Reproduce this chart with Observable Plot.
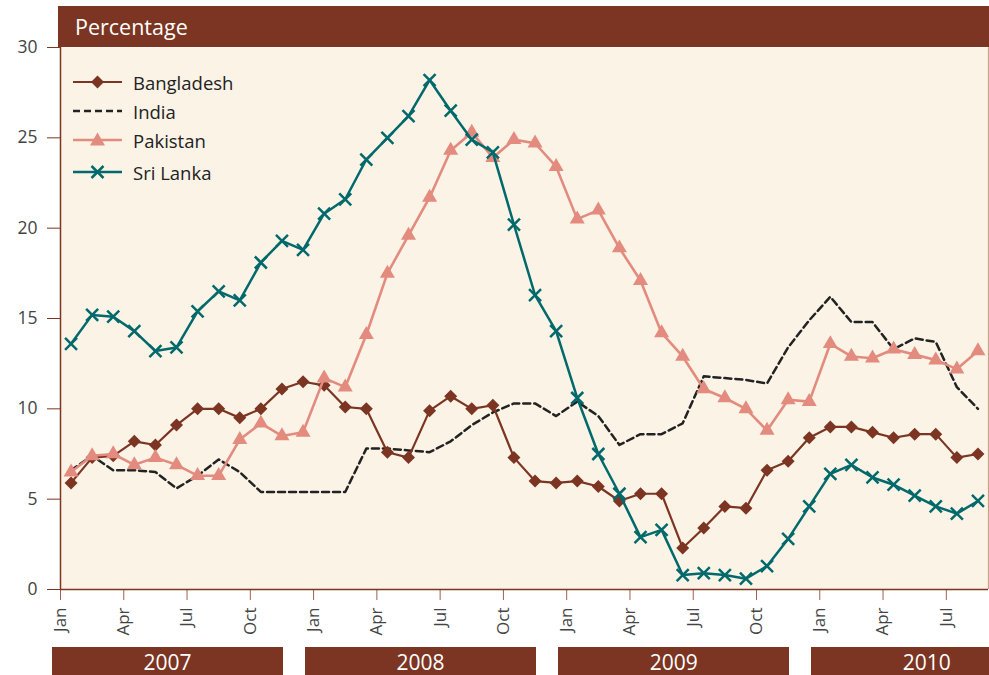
<!DOCTYPE html>
<html><head><meta charset="utf-8">
<script src="https://cdn.jsdelivr.net/npm/d3@7"></script>
<script src="https://cdn.jsdelivr.net/npm/@observablehq/plot@0.6"></script>
<style>
body{margin:0;background:#fff;font-family:"Open Sans",sans-serif;}
#wrap{position:relative;width:989px;height:675px;overflow:hidden;}
#chart{position:absolute;left:0;top:0;}
#header{position:absolute;left:58px;top:6px;width:931px;height:41px;background:#7B3522;color:#fff;font-size:21.5px;line-height:41px;padding-left:17px;box-sizing:border-box;}
.yearbar{position:absolute;top:647px;height:32px;background:#7B3522;color:#fff;font-size:21px;line-height:30px;text-align:center;}
.leg{position:absolute;left:72px;height:24px;display:flex;align-items:center;font-size:18.5px;color:#222;}
.leg svg{margin-right:9px;}
</style></head><body><div id="wrap"><div id="chart"></div></div>
<script>
const monthNames = ["Jan","Feb","Mar","Apr","May","Jun","Jul","Aug","Sep","Oct","Nov","Dec"];
const years = ["2007","2008","2009","2010"];
const countries = ["Bangladesh","India","Pakistan","Sri Lanka"];
const bangladesh = [5.9,7.3,7.4,8.2,8.0,9.1,10.0,10.0,9.5,10.0,11.1,11.5,
  11.3,10.1,10.0,7.6,7.3,9.9,10.7,10.0,10.2,7.3,6.0,5.9,
  6.0,5.7,4.9,5.3,5.3,2.3,3.4,4.6,4.5,6.6,7.1,8.4,
  9.0,9.0,8.7,8.4,8.6,8.6,7.3,7.5];
const india = [6.6,7.4,6.6,6.6,6.5,5.6,6.3,7.2,6.5,5.4,5.4,5.4,
  5.4,5.4,7.8,7.8,7.7,7.6,8.2,9.1,9.8,10.3,10.3,9.6,
  10.4,9.6,8.0,8.6,8.6,9.2,11.8,11.7,11.6,11.4,13.4,14.9,
  16.2,14.8,14.8,13.3,13.9,13.7,11.2,10.0];
const pakistan = [6.5,7.4,7.5,6.9,7.3,6.9,6.3,6.3,8.3,9.2,8.5,8.7,
  11.7,11.2,14.1,17.5,19.6,21.7,24.3,25.3,23.9,24.9,24.7,23.4,
  20.5,21.0,18.9,17.1,14.2,12.9,11.1,10.6,10.0,8.8,10.5,10.4,
  13.6,12.9,12.8,13.3,13.0,12.7,12.2,13.2];
const sriLanka = [13.6,15.2,15.1,14.3,13.2,13.4,15.4,16.5,16.0,18.1,19.3,18.8,
  20.8,21.6,23.8,25.0,26.2,28.2,26.5,24.9,24.2,20.2,16.3,14.3,
  10.6,7.5,5.3,2.9,3.3,0.8,0.9,0.8,0.6,1.3,2.8,4.6,
  6.4,6.9,6.2,5.8,5.2,4.6,4.2,4.9];
const yTicks = [0,5,10,15,20,25,30];
const xTicks = [0,3,6,9,12,15,18,21,24,27,30,33,36,39,42];

const BROWN = "#7B3522", SALMON = "#E38B7E", TEAL = "#00696B", DARK = "#222";

const toRows = (vals, name) => vals.map((v, i) => ({country: name, m: i + 0.5, v}));
const rowsB = toRows(bangladesh, countries[0]);
const rowsI = toRows(india, countries[1]);
const rowsP = toRows(pakistan, countries[2]);
const rowsS = toRows(sriLanka, countries[3]);

const diamondSym = {draw(ctx, size){const r = Math.sqrt(size/Math.PI); ctx.moveTo(0,-r); ctx.lineTo(r,0); ctx.lineTo(0,r); ctx.lineTo(-r,0); ctx.closePath();}};
const triSym = {draw(ctx, size){const r = Math.sqrt(size/Math.PI); const s = 2*r, h = s*Math.sqrt(3)/2; ctx.moveTo(0,-2*h/3); ctx.lineTo(s/2,h/3); ctx.lineTo(-s/2,h/3); ctx.closePath();}};
const xSym = {draw(ctx, size){const r = Math.sqrt(size/Math.PI); ctx.moveTo(-r,-r); ctx.lineTo(r,r); ctx.moveTo(r,-r); ctx.lineTo(-r,r);}};

const chart = Plot.plot({
  width: 989, height: 645,
  marginLeft: 60, marginRight: 1, marginTop: 47, marginBottom: 56,
  style: {fontFamily: "'Open Sans', sans-serif", fontSize: "17px", background: "transparent", overflow: "visible"},
  x: {type: "linear", domain: [0, 44]},
  y: {domain: [0, 30]},
  marks: [
    Plot.frame({fill: "#FBF3E6", stroke: null}),
    Plot.ruleX([44], {stroke: "#C9A08A", strokeWidth: 1.2}),
    Plot.axisY({ticks: yTicks, tickSize: 13, tickPadding: 10, stroke: BROWN, fill: "#444", fontSize: 17.5, label: null}),
    Plot.axisX({ticks: xTicks, tickFormat: i => monthNames[i % 12], tickRotate: -90, tickSize: 11, tickPadding: 7, stroke: "#A0604C", fill: "#444", fontSize: 17, label: null}),
    Plot.ruleX([0], {stroke: BROWN, strokeWidth: 1.5}),
    Plot.ruleY([0], {stroke: BROWN, strokeWidth: 1.5}),
    Plot.line(rowsI, {x: "m", y: "v", stroke: DARK, strokeWidth: 2.5, strokeDasharray: "7,4"}),
    Plot.line(rowsB, {x: "m", y: "v", stroke: BROWN, strokeWidth: 2.2}),
    Plot.dot(rowsB, {x: "m", y: "v", symbol: diamondSym, r: 6.5, fill: BROWN, stroke: "none"}),
    Plot.line(rowsP, {x: "m", y: "v", stroke: SALMON, strokeWidth: 2.6}),
    Plot.dot(rowsP, {x: "m", y: "v", symbol: triSym, r: 7.5, fill: SALMON, stroke: "none"}),
    Plot.line(rowsS, {x: "m", y: "v", stroke: TEAL, strokeWidth: 2.5}),
    Plot.dot(rowsS, {x: "m", y: "v", symbol: xSym, r: 6, fill: "none", stroke: TEAL, strokeWidth: 2.5})
  ]
});
const wrap = document.getElementById("wrap");
document.getElementById("chart").appendChild(chart);

const header = document.createElement("div");
header.id = "header";
header.textContent = "Percentage";
wrap.appendChild(header);

const xs = chart.scale("x");
years.forEach((y, k) => {
  const d = document.createElement("div");
  d.className = "yearbar";
  const left = xs.apply(12 * k) - 8;
  d.style.left = left + "px";
  d.style.width = "231px";
  d.textContent = y;
  wrap.appendChild(d);
});

const legendTops = [70, 99, 128, 160];
const samples = [
  `<line x1="1" y1="12" x2="50" y2="12" stroke="${BROWN}" stroke-width="2.2"/><path d="M25.5 5.5L32 12L25.5 18.5L19 12Z" fill="${BROWN}"/>`,
  `<line x1="1" y1="12" x2="50" y2="12" stroke="${DARK}" stroke-width="2.5" stroke-dasharray="7,4"/>`,
  `<line x1="1" y1="12" x2="50" y2="12" stroke="${SALMON}" stroke-width="2.6"/><path d="M25.5 4.5L33 17.5L18 17.5Z" fill="${SALMON}"/>`,
  `<line x1="1" y1="12" x2="50" y2="12" stroke="${TEAL}" stroke-width="2.5"/><path d="M19.5 6L31.5 18M31.5 6L19.5 18" stroke="${TEAL}" stroke-width="2.5"/>`
];
countries.forEach((c, i) => {
  const d = document.createElement("div");
  d.className = "leg";
  d.style.top = legendTops[i] + "px";
  d.innerHTML = `<svg width="52" height="24">${samples[i]}</svg><span>${c}</span>`;
  wrap.appendChild(d);
});
</script>
</body></html>
